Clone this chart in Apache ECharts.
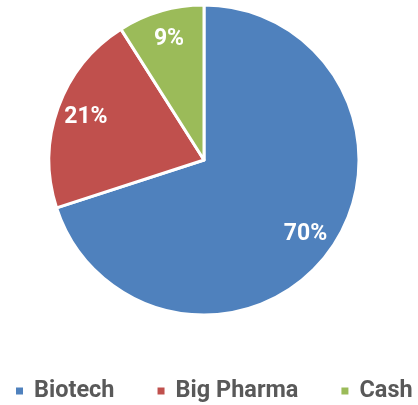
<!DOCTYPE html>
<html><head><meta charset="utf-8">
<script src="https://cdn.jsdelivr.net/npm/echarts@6/dist/echarts.min.js"></script>
<style>html,body{margin:0;padding:0;background:#fff}#c{width:418px;height:405px}</style>
</head><body><div id="c"></div>
<script>
const categories = ['Biotech', 'Big Pharma', 'Cash'];
const values = [70, 21, 9];
const colors = ['#4F81BD', '#C0504D', '#9BBB59'];

const data = categories.map((n, i) => ({ name: n, value: values[i], itemStyle: { color: colors[i] } }));
const chart = echarts.init(document.getElementById('c'), null, { renderer: 'canvas' });
chart.setOption({
  animation: false,
  legend: {
    top: 379,
    left: 14,
    right: 0,
    padding: 0,
    icon: 'rect',
    itemWidth: 9,
    itemHeight: 9,
    itemGap: 41,
    textStyle: { fontFamily: 'Roboto', fontWeight: 'bold', fontSize: 23.5, color: '#595959', padding: [0, 0, 0, 5] },
    data: categories
  },
  series: [
    {
      type: 'pie',
      center: [204, 160],
      radius: [0, 155],
      startAngle: 90,
      clockwise: true,
      label: { show: false },
      labelLine: { show: false },
      itemStyle: { borderColor: '#fff', borderWidth: 3 },
      data: data
    },
    {
      type: 'pie',
      center: [204, 160],
      radius: [90, 155],
      startAngle: 90,
      clockwise: true,
      silent: true,
      legendHoverLink: false,
      label: {
        show: true, position: 'inner',
        formatter: p => p.value + '%',
        fontFamily: 'Roboto', fontWeight: 'bold', fontSize: 23, color: '#fff'
      },
      labelLine: { show: false },
      itemStyle: { color: 'transparent', borderWidth: 0 },
      data: categories.map((n, i) => ({ name: n, value: values[i] }))
    }
  ]
});
</script></body></html>
